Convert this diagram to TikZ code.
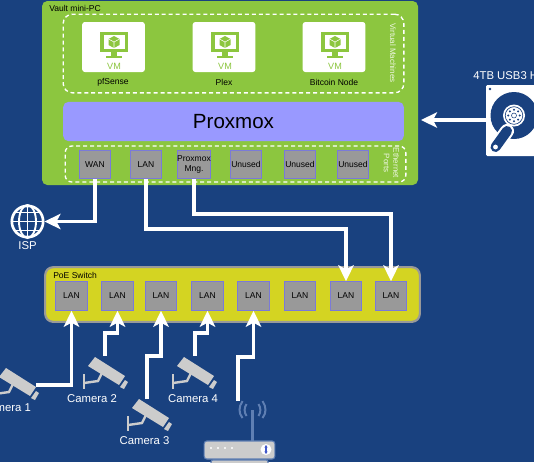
\documentclass[tikz,border=0pt]{standalone}
\usepackage{fontspec}
\setmainfont{Liberation Sans}
\usetikzlibrary{arrows.meta,calc}
\definecolor{bgblue}{HTML}{19417F}
\definecolor{vaultgreen}{HTML}{8CC63F}
\definecolor{purplebar}{HTML}{9999FF}
\definecolor{portgray}{HTML}{999999}
\definecolor{portedge}{HTML}{7A7AD8}
\definecolor{swyellow}{HTML}{D4D422}
\definecolor{camgray}{HTML}{CCCCCC}
\definecolor{antenna}{HTML}{5F7FB3}
\tikzset{
  lbl/.style={font=\fontsize{6.4pt}{7.4pt}\selectfont,text=black,inner sep=0pt,align=center},
  wlbl/.style={font=\fontsize{8.5pt}{10pt}\selectfont,text=white,inner sep=0pt,align=center},
  vlbl/.style={font=\fontsize{6pt}{7pt}\selectfont,text=white!85!vaultgreen,inner sep=0pt,align=center,rotate=-90},
  port/.style={draw=portedge,line width=0.6pt,fill=portgray,minimum width=23.5pt,minimum height=21.5pt,inner sep=0pt,
     font=\fontsize{6.4pt}{7.4pt}\selectfont,align=center},
  vmbox/.style={fill=white,rounded corners=2pt,minimum width=47pt,minimum height=37.5pt,inner sep=0pt},
  dashbox/.style={draw=white,line width=1pt,dash pattern=on 3pt off 2.2pt,rounded corners=7pt},
  wire/.style={draw=white,line width=2.5pt},
  wirea/.style={wire,-{Stealth[length=12pt,width=11.5pt,inset=3pt]}},
  cam/.pic={
    \fill[camgray] (5,9) -- (12,0) -- (42,19) -- (36,28) -- cycle;
    \fill[camgray] (37,30) -- (42,23) -- (45,25) -- (41,32) -- cycle;
    \draw[camgray,line width=2pt] (1,17) -- (1,32);
    \draw[camgray,line width=1.8pt] (1,26) -- (15,24) -- (19,16);
  },
  vmicon/.pic={
    \fill[vaultgreen] (-14,-18) rectangle (14,2);
    \fill[white] (-10.5,-15) rectangle (10.5,-1);
    \fill[vaultgreen] (-3,2) rectangle (3,6);
    \fill[vaultgreen] (-8,5.5) rectangle (8,7.5);
    \fill[vaultgreen] (0,-14) -- (5.5,-11) -- (5.5,-5) -- (0,-2) -- (-5.5,-5) -- (-5.5,-11) -- cycle;
    \draw[white,line width=0.4pt] (-5.5,-11) -- (0,-8) -- (5.5,-11) (0,-8) -- (0,-2);
    \node[inner sep=0pt,text=vaultgreen,font=\fontsize{6.8pt}{8pt}\selectfont] at (0,16) {VM};
  }
}
\begin{document}
\begin{tikzpicture}[x=0.75pt,y=-0.75pt]
\useasboundingbox (0,0) rectangle (534,462);
\clip (0,0) rectangle (534,462);
\fill[bgblue] (0,0) rectangle (534,462);
% vault
\node[fill=vaultgreen,rounded corners=4pt,minimum width=282pt,minimum height=138pt,inner sep=0pt] (vault) at (230,93) {};
\node[lbl,anchor=west] (vaulttitle) at (49,8) {Vault mini-PC};
\node[dashbox,minimum width=255.5pt,minimum height=59pt,inner sep=0pt] (vmgroup) at (233.5,53.5) {};
\node[vlbl] (vmlabel) at (393,53) {Virtual Machines};
\node[vmbox] (vm1) at (113.5,47) {};
\node[vmbox] (vm2) at (224,47) {};
\node[vmbox] (vm3) at (334,47) {};
\pic at (114,50) {vmicon};
\pic at (225,50) {vmicon};
\pic at (335,50) {vmicon};
\node[lbl] (n1) at (113,82) {pfSense};
\node[lbl] (n2) at (224,82) {Plex};
\node[lbl] (n3) at (334,82) {Bitcoin Node};
\node[fill=purplebar,rounded corners=4pt,minimum width=255.5pt,minimum height=29.5pt,inner sep=0pt,
  font=\fontsize{15.4pt}{18pt}\selectfont] (proxmox) at (233.5,121.5) {Proxmox};
\node[dashbox,rounded corners=5pt,minimum width=255.5pt,minimum height=27pt,inner sep=0pt] (ethgroup) at (235.5,164) {};
\node[vlbl] (ethlabel) at (391.5,163) {Ethernet\\Ports};
\node[port] (wan) at (95,164.5) {WAN};
\node[port] (lan) at (146,164.5) {LAN};
\node[port] (mng) at (194,164.5) {Proxmox\\Mng.};
\node[port] (u1) at (246,164.5) {Unused};
\node[port] (u2) at (300,164.5) {Unused};
\node[port] (u3) at (353,164.5) {Unused};
% switch
\node[draw=portgray,line width=1.6pt,fill=swyellow,rounded corners=6pt,minimum width=281pt,minimum height=41pt,inner sep=0pt] (switch) at (232.5,294.5) {};
\node[lbl,anchor=west] (swtitle) at (53,275.5) {PoE Switch};
\node[port] (s1) at (71.5,296) {LAN};
\node[port] (s2) at (117.5,296) {LAN};
\node[port] (s3) at (161,296) {LAN};
\node[port] (s4) at (207.5,296) {LAN};
\node[port] (s5) at (253.5,296) {LAN};
\node[port] (s6) at (300,296) {LAN};
\node[port] (s7) at (346,296) {LAN};
\node[port] (s8) at (391,296) {LAN};
% ISP globe
\node[circle,draw=white,line width=2pt,minimum size=23.5pt,inner sep=0pt] (isp) at (27.5,221.5) {};
\draw[white,line width=1.4pt] (27.5,205) -- (27.5,238) (11,221.5) -- (44,221.5) (14,212.5) -- (41,212.5) (14,230.5) -- (41,230.5);
\draw[white,line width=1.4pt] (27.5,221.5) circle [x radius=8.5,y radius=16.5];
\node[wlbl] (isplabel) at (27.5,245.5) {ISP};
% HDD
\node[wlbl,anchor=west] (hddlabel) at (473,76) {4TB USB3 H};
\fill[white,rounded corners=1pt] (486,85) rectangle (540,156);
\coordinate (hdd) at (486,120);
\fill[bgblue] (490,89) circle [radius=1.4];
\fill[bgblue] (514,115.5) circle [radius=23.5];
\fill[white] (514,115.5) circle [radius=11];
\draw[bgblue,line width=0.5pt] (514,115.5) circle [radius=8.8];
\foreach \a in {0,45,...,315} \fill[bgblue] ($(514,115.5)+(\a:5.8)$) circle [radius=1.1];
\draw[bgblue,line width=0.4pt] (514,115.5) circle [radius=2.5];
\draw[white,line width=10.5pt,line cap=round] (495.5,147) -- (507,131);
\draw[bgblue,line width=7.5pt,line cap=round] (495.5,147) -- (507,131);
\fill[white] (495.5,147) circle [radius=2.4];
% router
\draw[antenna,line width=1.6pt] (252.5,441) -- (252.5,410);
\draw[antenna,line width=1.5pt]
  (246.5,404) .. controls (244,408) and (244,412) .. (246.5,416)
  (242.5,401) .. controls (238.5,407) and (238.5,413) .. (242.5,418)
  (258.5,404) .. controls (261,408) and (261,412) .. (258.5,416)
  (262.5,401) .. controls (266.5,407) and (266.5,413) .. (262.5,418);
\fill[camgray,draw=antenna,line width=0.8pt,rounded corners=1.5pt] (211,460) rectangle (268,466);
\node[fill=camgray,draw=antenna,line width=0.8pt,rounded corners=2pt,minimum width=53pt,minimum height=13.5pt,inner sep=0pt] (router) at (239.5,450) {};
\foreach \x in {211,218,225,232} \fill[white] (\x,448) circle [radius=1.1];
\fill[white] (266,449.5) circle [radius=5.5];
\draw[antenna!70!blue,line width=0.8pt,{Stealth[length=2pt,width=2.5pt]}-{Stealth[length=2pt,width=2.5pt]}] (266,445) -- (266,454);
% cameras
\pic at (-6,368) {cam};
\pic at (83,357) {cam};
\pic at (127,399) {cam};
\pic at (172,357) {cam};
\node[wlbl] (c1) at (6,407.5) {Camera 1};
\node[wlbl] (c2) at (92,398.5) {Camera 2};
\node[wlbl] (c3) at (144.5,441) {Camera 3};
\node[wlbl] (c4) at (193,398.5) {Camera 4};
\coordinate (c1end) at (36,385);
\coordinate (c2end) at (105,356);
\coordinate (c3end) at (147,399);
\coordinate (c4end) at (195,356);
\coordinate (rend) at (238,401);
% connectors
\draw[wirea] (wan.south) |- (isp.east);
\draw[wirea] (lan.south) -- (146,229) -| (s7.north);
\draw[wirea] (mng.south) -- (194,214) -| (s8.north);
\draw[wirea] (hdd) -- (421,120);
\draw[wirea] (c1end) -| (s1.south);
\draw[wirea] (c2end) |- (117.5,333) -- (s2.south);
\draw[wirea] (c3end) |- (161,356) -- (s3.south);
\draw[wirea] (c4end) |- (207.5,333) -- (s4.south);
\draw[wirea] (rend) |- (253.5,357) -- (s5.south);
\end{tikzpicture}
\end{document}
